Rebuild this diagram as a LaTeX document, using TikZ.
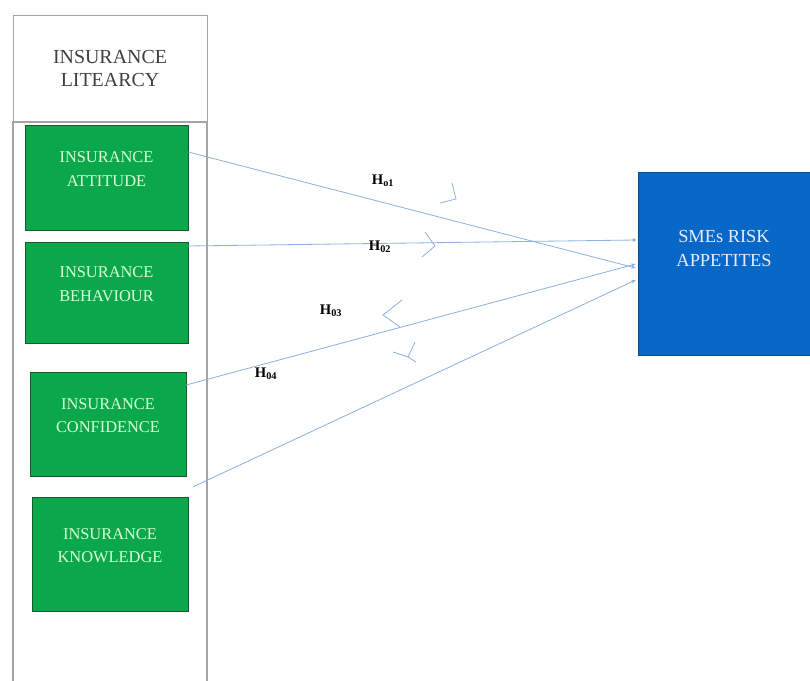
\documentclass[tikz,border=0pt]{standalone}
\usepackage{fontspec}
\setmainfont{Liberation Serif}
\usepackage{tikz}
\usetikzlibrary{calc, arrows.meta}
\definecolor{boxgreen}{RGB}{10,168,74}
\definecolor{edgegreen}{RGB}{20,90,45}
\definecolor{boxblue}{RGB}{8,104,200}
\definecolor{linkblue}{RGB}{140,178,226}
\definecolor{framegray}{RGB}{165,165,165}
\tikzset{
	gbox/.style={draw=edgegreen, fill=boxgreen, text=green!15!white, align=center,
		font=\fontsize{14}{20}\selectfont, inner sep=0pt, text depth=0.5cm},
	link/.style={draw=linkblue, line width=0.7pt},
	hyp/.style={font=\fontsize{12.5}{13}\selectfont\bfseries}
}
\begin{document}
\begin{tikzpicture}[x=0.03cm, y=-0.03cm]
	\useasboundingbox (0,0) rectangle (810,681);

	\node [draw=framegray, line width=0.8pt, minimum width=5.82cm, minimum height=3.21cm,
		align=center, font=\fontsize{17}{20}\selectfont, text=black!75, text depth=0pt] (lit) at (110,68.5) {INSURANCE\\LITEARCY};
	\draw [framegray, line width=1.2pt] (13,681) -- (13,122) -- (207,122) -- (207,681);

	\node [gbox, minimum width=4.89cm, minimum height=3.15cm] (att) at (106.5,177.5) {INSURANCE\\ATTITUDE};
	\node [gbox, minimum width=4.89cm, minimum height=3.03cm] (beh) at (106.5,292.5) {INSURANCE\\BEHAVIOUR};
	\node [gbox, minimum width=4.68cm, minimum height=3.12cm] (con) at (108,424) {INSURANCE\\CONFIDENCE};
	\node [gbox, minimum width=4.68cm, minimum height=3.42cm] (kno) at (110,554) {INSURANCE\\KNOWLEDGE};

	\node [draw=boxblue!70!black, fill=boxblue, text=blue!8!white, align=center,
		font=\fontsize{15.7}{20}\selectfont, minimum width=5.16cm, minimum height=5.49cm,
		inner sep=0pt, text depth=0.9cm] (sme) at (724,263.5) {SMEs RISK\\APPETITES};

	\draw [link, -{Stealth[length=4pt, width=3pt]}] ($(att.east)+(0,-25.5)$) -- ($(sme.west)+(-2,4.5)$);
	\draw [link, -{Circle[length=3pt]}] ($(beh.east)+(0,-46.5)$) -- ($(sme.west)+(-2,-23.5)$);
	\draw [link, -{Stealth[length=4pt, width=3pt]}] ($(con.east)+(0,-39)$) -- ($(sme.west)+(-2,0.5)$);
	\draw [link, -{Stealth[length=4pt, width=3pt]}] ($(kno.north east)+(5,-10)$) -- ($(sme.west)+(-2,16.5)$);

	\node [hyp] (h1) at (383,181) {H\textsubscript{o1}};
	\node [hyp] (h2) at (380,247) {H\textsubscript{02}};
	\node [hyp] (h3) at (331,311) {H\textsubscript{03}};
	\node [hyp] (h4) at (266,374) {H\textsubscript{04}};

	\draw [link] (452,183) -- (456,199) -- (440,203);
	\draw [link] (425,232) -- (435,246) -- (422,257);
	\draw [link] (402,300) -- (383,315) -- (400,327);
	\draw [link] (415,342) -- (408,357) -- (393,352);
	\draw [link] (408,357) -- (416,362);
\end{tikzpicture}
\end{document}
